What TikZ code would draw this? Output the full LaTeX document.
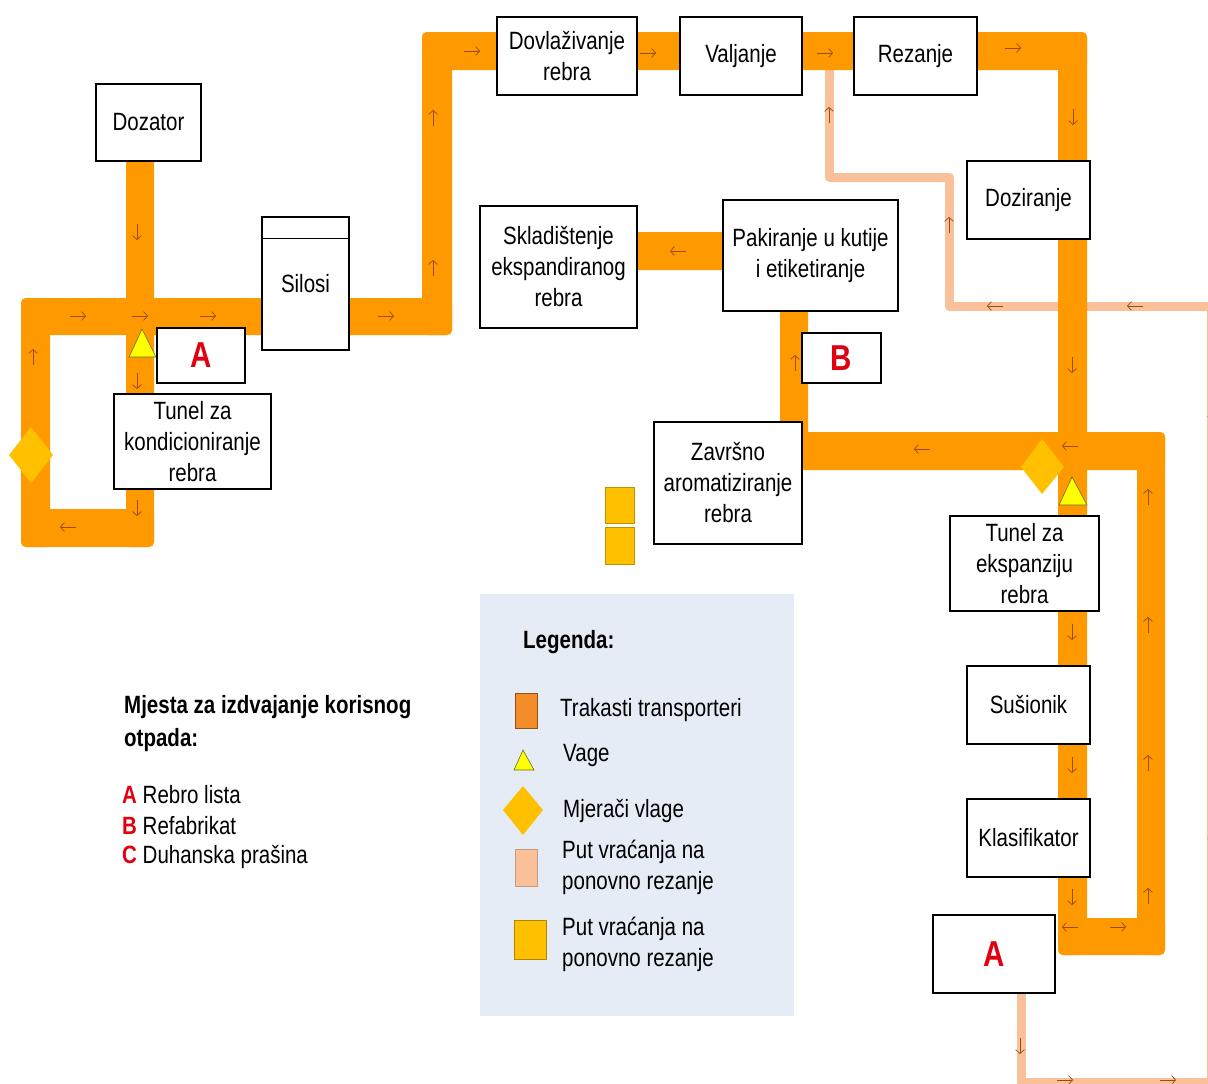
\documentclass[tikz,border=0pt]{standalone}
\usepackage{fontspec}
\setmainfont{Liberation Sans}[FakeStretch=0.82]
\usetikzlibrary{arrows.meta}

\definecolor{beltorange}{HTML}{FF9900}
\definecolor{recutsalmon}{HTML}{F9C09A}
\definecolor{meteryellow}{HTML}{FFC000}
\definecolor{scaleyellow}{HTML}{FFFF00}
\definecolor{flowbrown}{HTML}{9A4A14}
\definecolor{wastered}{HTML}{E00010}
\definecolor{legendbg}{HTML}{E6ECF5}
\definecolor{legendorange}{HTML}{F28C28}

\tikzset{
  stage/.style={draw,fill=white,line width=1.1pt,align=center,inner sep=2pt,
                font=\fontsize{25}{31}\selectfont},
  waste/.style={stage,text=wastered,font=\fontsize{36}{40}\selectfont\bfseries},
  belt/.style={fill=beltorange,rounded corners=5pt},
  recut/.style={draw=recutsalmon,line width=9pt,line join=round},
  flow/.style={draw=flowbrown,line width=0.7pt,-{Straight Barb[length=4pt,width=9pt]}},
  weigher/.style={fill=scaleyellow,draw=olive!70!black,line width=0.6pt},
  moisture/.style={fill=meteryellow},
  plain/.style={anchor=west,align=left,inner sep=0pt,font=\fontsize{25}{31}\selectfont},
}

\begin{document}
\begin{tikzpicture}[x=1pt,y=-1pt]
  \useasboundingbox (0,0) rectangle (1208,1084);
  \clip (0,0) rectangle (1208,1084);
  % legend background
  \fill[legendbg] (480,594) rectangle (794,1016);
  % return path to cutting
  \draw[recut] (1021,993) |- (1211,1082) |- (949,306) |- (829,177) -- (829,70);
  % belt conveyors
  \fill[belt] (126,150) rectangle (154,335);
  \fill[belt] (21,298) rectangle (452,335);
  \fill[belt] (21,298) rectangle (50,547);
  \fill[belt] (21,509) rectangle (154,547);
  \fill[belt] (126,298) rectangle (154,547);
  \fill[belt] (422,32) rectangle (452,335);
  \fill[belt] (422,32) rectangle (1087,70);
  \fill[belt] (1058,32) rectangle (1087,955);
  \fill[belt] (780,432) rectangle (1165,470);
  \fill[belt] (780,300) rectangle (808,470);
  \fill[belt] (1137,432) rectangle (1165,955);
  \fill[belt] (1058,918) rectangle (1165,955);
  \fill[belt] (630,232) rectangle (730,270);
  % flow directions
  \foreach \x/\y in {78/316,140/316,208/316,386/316,472/51,648/53,825/53,1013/48,1118/927,1065/1080,1168/1080}
    \draw[flow] (\x-8,\y) -- (\x+8,\y);
  \foreach \x/\y in {68/527,922/449,1070/446,678/251,1070/927,995/306,1135/306}
    \draw[flow] (\x+8,\y) -- (\x-8,\y);
  \foreach \x/\y in {33/357,433/118,433/268,795/363,1148/497,1148/625,1148/763,1148/896,829/115,949/225,1212/420,1212/842}
    \draw[flow] (\x,\y+8) -- (\x,\y-8);
  \foreach \x/\y in {137/232,137/381,137/508,1073/117,1072/365,1072/632,1072/765,1072/897,1020/1046}
    \draw[flow] (\x,\y-8) -- (\x,\y+8);
  % process stages
  \node[stage,minimum width=105pt,minimum height=77pt] (dozator) at (148.5,122.5) {Dozator};
  \node[stage,minimum width=87pt,minimum height=133pt] (silosi) at (305.5,283.5) {Silosi};
  \draw[line width=1.1pt] ([yshift=-22pt]silosi.north west) -- ([yshift=-22pt]silosi.north east);
  \node[waste,minimum width=88pt,minimum height=55pt] (wasteA) at (201,355.5) {A};
  \node[stage,minimum width=157pt,minimum height=95pt] (tunelK) at (192.5,441.5) {Tunel za\\kondicioniranje\\rebra};
  \node[stage,minimum width=140pt,minimum height=78pt] (dovlaz) at (567,56) {Dovlaživanje\\rebra};
  \node[stage,minimum width=122pt,minimum height=78pt] (valjanje) at (741,56) {Valjanje};
  \node[stage,minimum width=123pt,minimum height=78pt] (rezanje) at (915.5,56) {Rezanje};
  \node[stage,minimum width=123pt,minimum height=78pt] (doziranje) at (1028.5,200) {Doziranje};
  \node[stage,minimum width=157pt,minimum height=122pt] (skladiste) at (558.5,267) {Skladištenje\\ekspandiranog\\rebra};
  \node[stage,minimum width=175pt,minimum height=111pt] (pakiranje) at (810.5,255.5) {Pakiranje u kutije\\i etiketiranje};
  \node[waste,minimum width=79pt,minimum height=50pt] (wasteB) at (841.5,358) {B};
  \node[stage,minimum width=148pt,minimum height=122pt] (zavrsno) at (728,483) {Završno\\aromatiziranje\\rebra};
  \node[stage,minimum width=149pt,minimum height=95pt] (tunelE) at (1024.5,563.5) {Tunel za\\ekspanziju\\rebra};
  \node[stage,minimum width=123pt,minimum height=78pt] (susionik) at (1028.5,705) {Sušionik};
  \node[stage,minimum width=123pt,minimum height=78pt] (klasif) at (1028.5,838) {Klasifikator};
  \node[waste,minimum width=122pt,minimum height=78pt] (wasteA2) at (994,954) {A};
  % scales and moisture meters
  \draw[weigher] (142,329) -- (156,357) -- (129,357) -- cycle;
  \draw[weigher] (1072,477) -- (1087,505) -- (1059,505) -- cycle;
  \fill[moisture] (31,427) -- (53,455) -- (31,483) -- (9,455) -- cycle;
  \fill[moisture] (1042,439) -- (1064,467) -- (1042,494) -- (1021,467) -- cycle;
  \draw[fill=meteryellow,draw=meteryellow!75!black] (605,487) rectangle (634,523);
  \draw[fill=meteryellow,draw=meteryellow!75!black] (605,527) rectangle (634,564);
  % legend
  \node[plain,font=\fontsize{25}{31}\selectfont\bfseries] (legtitle) at (523,642) {Legenda:};
  \draw[fill=legendorange,draw=legendorange!60!black] (515,693) rectangle (537,728);
  \node[plain] (legbelt) at (560,710) {Trakasti transporteri};
  \draw[weigher] (523,750) -- (534,770) -- (514,770) -- cycle;
  \node[plain] (legscale) at (563,755) {Vage};
  \fill[moisture] (523,786) -- (543,810) -- (523,835) -- (503,810) -- cycle;
  \node[plain] (legmeter) at (563,811) {Mjerači vlage};
  \draw[fill=recutsalmon,draw=recutsalmon!80!black] (515,849) rectangle (537,886);
  \node[plain] (legrecut) at (562,867) {Put vraćanja na\\ponovno rezanje};
  \draw[fill=meteryellow,draw=meteryellow!70!black] (514,920) rectangle (546,959);
  \node[plain] (legrecutB) at (562,944) {Put vraćanja na\\ponovno rezanje};
  % waste key
  \node[plain,font=\fontsize{25}{33}\selectfont\bfseries] (keytitle) at (124,724) {Mjesta za izdvajanje korisnog\\otpada:};
  \node[plain] (keyA) at (122,795) {\textcolor{wastered}{\textbf{A}} Rebro lista};
  \node[plain] (keyB) at (122,826) {\textcolor{wastered}{\textbf{B}} Refabrikat};
  \node[plain] (keyC) at (122,857) {\textcolor{wastered}{\textbf{C}} Duhanska prašina};
\end{tikzpicture}
\end{document}
